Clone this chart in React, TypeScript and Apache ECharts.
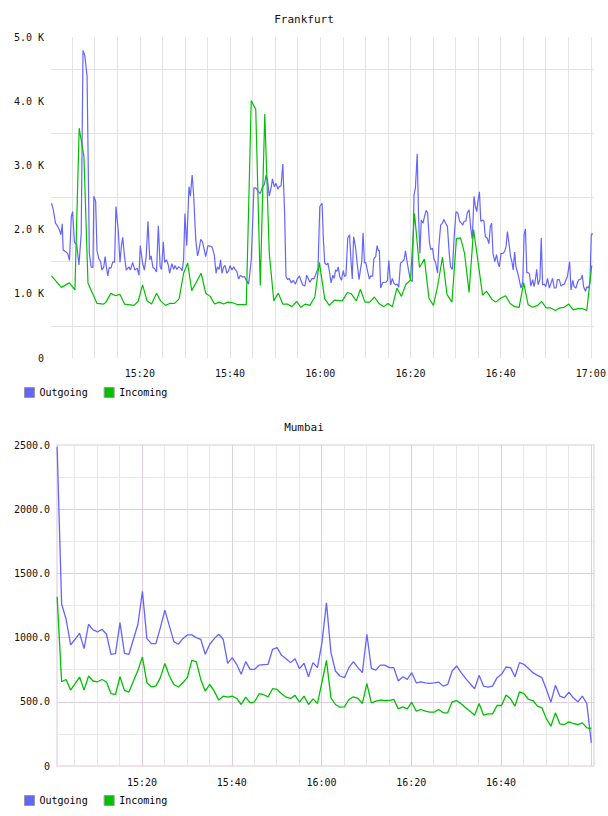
import React, { useEffect, useRef } from "react";
import * as echarts from "echarts";

// Frankfurt traffic: sample times in minutes after 15:00, values in bytes/s
const fraOutMinutes = [
  0.4, 0.8, 1.3, 1.8, 2.2, 2.5, 2.8, 3.0, 3.5, 4.0, 4.4, 4.8, 5.1, 5.5, 6.0, 6.5, 7.0, 7.4, 7.8, 8.3,
  8.8, 9.2, 9.6, 9.8, 10.2, 10.5, 10.9, 11.3, 11.6, 12.0, 12.3, 12.6, 12.9, 13.2, 13.6, 14.0, 14.4, 14.7, 15.2, 15.6,
  15.9, 16.2, 16.6, 17.0, 17.6, 17.9, 18.4, 18.9, 19.4, 19.8, 20.1, 20.6, 21.0, 21.4, 21.8, 22.2, 22.5, 22.9, 23.3, 23.7,
  24.1, 24.5, 24.8, 25.2, 25.5, 25.9, 26.3, 26.6, 27.1, 27.5, 27.8, 28.2, 28.6, 29.0, 29.4, 29.7, 30.0, 30.4, 30.9, 31.2,
  31.6, 31.9, 32.4, 32.8, 33.1, 33.5, 33.9, 34.3, 34.6, 35.1, 35.6, 36.0, 36.5, 36.9, 37.2, 37.6, 37.9, 38.2, 38.6, 38.9,
  39.3, 39.7, 40.0, 40.4, 40.8, 41.1, 41.5, 41.9, 42.3, 42.8, 43.2, 43.6, 44.1, 44.4, 44.7, 45.3, 45.7, 46.3, 46.7, 47.1,
  47.6, 48.0, 48.3, 48.7, 49.1, 49.4, 49.8, 50.2, 50.6, 50.9, 51.3, 51.7, 52.1, 52.4, 52.8, 53.1, 53.6, 54.0, 54.5, 54.9,
  55.4, 55.7, 56.1, 56.6, 57.0, 57.4, 57.7, 58.2, 58.6, 59.1, 59.5, 59.9, 60.4, 60.7, 61.0, 61.4, 61.7, 62.1, 62.4, 62.8,
  63.1, 63.4, 63.7, 64.0, 64.3, 64.7, 65.1, 65.4, 65.7, 66.1, 66.5, 66.8, 67.1, 67.4, 67.8, 68.2, 68.6, 68.9, 69.2, 69.5,
  69.8, 70.1, 70.5, 70.9, 71.2, 71.6, 71.9, 72.3, 72.6, 72.9, 73.1, 73.4, 73.8, 74.2, 74.6, 74.9, 75.2, 75.6, 76.0, 76.3,
  76.7, 77.1, 77.4, 77.8, 78.2, 78.6, 78.9, 79.3, 79.7, 80.0, 80.4, 80.8, 81.1, 81.5, 81.8, 82.1, 82.4, 82.8, 83.1, 83.5,
  83.8, 84.2, 84.5, 84.9, 85.2, 85.6, 86.0, 86.3, 86.7, 87.1, 87.4, 87.8, 88.2, 88.6, 88.9, 89.3, 89.7, 90.1, 90.5, 90.9,
  91.3, 91.6, 91.9, 92.3, 92.6, 93.0, 93.4, 93.7, 94.1, 94.4, 94.7, 95.0, 95.3, 95.6, 96.0, 96.3, 96.6, 97.0, 97.4, 97.7,
  98.0, 98.3, 98.7, 99.1, 99.4, 99.7, 100.1, 100.5, 100.9, 101.2, 101.5, 101.9, 102.2, 102.5, 102.8, 103.1, 103.4, 103.8, 104.1, 104.5,
  104.9, 105.2, 105.5, 105.8, 106.1, 106.4, 106.7, 107.1, 107.4, 107.7, 108.0, 108.3, 108.7, 109.0, 109.3, 109.7, 110.0, 110.4, 110.8, 111.1,
  111.5, 111.9, 112.3, 112.6, 113.0, 113.4, 113.7, 114.1, 114.5, 114.8, 115.3, 115.6, 116.0, 116.3, 116.7, 117.1, 117.4, 117.8, 118.1, 118.4,
  118.8, 119.1, 119.5, 119.8, 120.1, 120.5,
];
const fraOutValues = [
  2410, 2310, 2100, 2050, 1990, 1920, 2090, 1680, 1660, 1630, 1520, 2200, 2280, 1800, 1770, 1450, 1940, 4790, 4710, 4390,
  1630, 1420, 1410, 2520, 2440, 1670, 1550, 1500, 1370, 1420, 1580, 1410, 1280, 1410, 1400, 1500, 1490, 2360, 2000, 1490,
  1740, 1880, 1580, 1370, 1420, 1370, 1490, 1370, 1400, 1290, 1750, 1480, 1370, 1570, 2130, 1530, 1590, 1410, 1390, 1340,
  2060, 1420, 1380, 1810, 1490, 1530, 1450, 1320, 1470, 1380, 1440, 1380, 1420, 1400, 1360, 1530, 2250, 1750, 2670, 2520,
  2850, 2570, 1840, 1590, 1680, 1850, 1810, 1680, 1580, 1750, 1740, 1730, 1610, 1320, 1420, 1380, 1530, 1320, 1420, 1440,
  1320, 1360, 1440, 1370, 1420, 1380, 1350, 1230, 1290, 1260, 1270, 1210, 1150, 1320, 1530, 2650, 2650, 2590, 2560, 2650,
  2700, 2850, 2780, 2520, 2650, 2790, 2670, 2720, 2630, 2670, 2680, 3020, 2260, 1270, 1220, 1240, 1170, 1210, 1150, 1230,
  1280, 1210, 1140, 1120, 1290, 1230, 1180, 1240, 1230, 1320, 1400, 2360, 2410, 1840, 1480, 1450, 1480, 1320, 1170, 1290,
  1240, 1370, 1350, 1420, 1270, 1210, 1360, 1270, 1280, 1870, 1920, 1530, 1230, 1890, 1740, 1470, 1220, 1370, 1500, 1950,
  1480, 1490, 1350, 1230, 1280, 1270, 1550, 1580, 1750, 1670, 1680, 1090, 1170, 1180, 1180, 1210, 1520, 1140, 1240, 1170,
  1140, 1150, 1100, 1480, 1500, 1530, 1670, 1480, 1320, 1220, 1190, 2540, 2650, 3180, 2200, 1630, 2150, 2100, 2200, 2300,
  2260, 1810, 1690, 1710, 1550, 1480, 1320, 1740, 2070, 2100, 2160, 2100, 2050, 1630, 1420, 1380, 1890, 2280, 2260, 2130,
  2100, 2070, 2130, 2130, 2260, 2310, 2010, 1850, 2520, 2360, 2280, 2460, 2590, 2130, 2150, 2130, 1890, 1870, 1780, 2050,
  2100, 1630, 1500, 1610, 1480, 1420, 1630, 1630, 1660, 1740, 1970, 1760, 1580, 1500, 1370, 1650, 1420, 1320, 1230, 1090,
  1180, 1920, 2010, 1330, 1330, 1310, 1120, 1220, 1110, 1220, 1380, 1140, 1220, 1870, 1140, 1150, 1110, 1240, 1090, 1150,
  1240, 1090, 1090, 1220, 1220, 1120, 1140, 1150, 1220, 1270, 1500, 1060, 1210, 1110, 1090, 1190, 1220, 1230, 1290, 1110,
  1040, 1110, 1090, 1170, 1930, 1930,
];
const fraInMinutes = [
  0.4, 2.6, 4.4, 5.6, 6.55, 7.6, 8.5, 10.5, 12.0, 12.5, 13.6, 14.6, 15.6, 16.6, 18.7, 19.6, 20.6, 21.6, 22.6, 23.7,
  24.6, 25.7, 26.6, 27.7, 28.7, 29.7, 30.6, 31.5, 33.6, 34.6, 35.6, 36.6, 37.6, 38.6, 39.5, 40.6, 41.7, 43.6, 44.7, 45.7,
  46.7, 47.7, 48.7, 49.7, 50.7, 51.7, 52.7, 53.7, 54.8, 55.7, 56.7, 57.7, 58.8, 59.8, 61.0, 62.0, 63.1, 64.9, 66.0, 66.9,
  68.0, 68.9, 69.9, 71.0, 72.0, 73.0, 74.1, 75.0, 76.0, 77.0, 78.0, 79.0, 80.0, 80.9, 82.0, 83.1, 84.1, 85.1, 86.0, 87.1,
  88.1, 89.2, 90.2, 91.1, 92.0, 93.0, 94.0, 95.0, 96.0, 96.9, 98.0, 98.9, 100.0, 101.1, 102.1, 103.1, 104.1, 105.1, 106.1, 107.1,
  108.2, 109.1, 110.1, 111.1, 112.1, 113.1, 114.1, 115.1, 116.1, 117.1, 118.1, 119.1, 120.2,
];
const fraInValues = [
  1280, 1100, 1170, 1060, 3580, 3140, 1170, 850, 840, 870, 1010, 970, 990, 840, 820, 880, 1140, 890, 840, 1010,
  890, 820, 850, 850, 920, 1320, 1480, 1050, 1320, 1010, 960, 840, 870, 840, 870, 860, 830, 830, 4010, 3870,
  1130, 3800, 1630, 890, 1010, 840, 840, 800, 880, 790, 840, 820, 950, 1490, 920, 820, 900, 890, 1020, 1000,
  890, 1070, 870, 870, 950, 850, 800, 850, 800, 1090, 960, 1150, 1210, 2250, 1410, 1540, 930, 820, 1110, 1570,
  990, 870, 1860, 1870, 1630, 1020, 2000, 1490, 980, 1040, 920, 870, 930, 970, 850, 800, 790, 1170, 830, 790,
  820, 880, 780, 780, 740, 780, 790, 840, 750, 770, 770, 740, 1440,
];

// Mumbai traffic: one sample per minute, the first at 15:01
const mumFirstMinute = 1.1;
const mumOutValues = [
  2487, 1262, 1143, 943, 987, 1034, 914, 1104, 1060, 1044, 1065, 1026, 870, 875, 1117, 878, 870, 987, 1104, 1360,
  992, 953, 953, 1078, 1214, 1091, 969, 948, 992, 1021, 1021, 1000, 987, 870, 948, 992, 1026, 987, 799, 844,
  792, 714, 813, 753, 753, 786, 790, 792, 909, 922, 862, 836, 805, 836, 758, 800, 695, 805, 766, 961,
  1270, 883, 740, 701, 688, 766, 813, 766, 727, 1026, 760, 747, 786, 786, 766, 766, 662, 695, 675, 727,
  648, 656, 648, 643, 648, 654, 622, 635, 740, 779, 727, 682, 641, 602, 706, 622, 615, 622, 688, 714,
  771, 766, 695, 805, 792, 760, 727, 706, 688, 596, 497, 628, 544, 531, 576, 531, 500, 544, 487, 180,
];
const mumInValues = [
  1318, 656, 674, 591, 641, 693, 591, 701, 662, 656, 674, 654, 563, 557, 695, 589, 576, 662, 745, 849,
  648, 617, 622, 688, 799, 701, 635, 615, 648, 688, 823, 813, 674, 583, 635, 583, 513, 544, 536, 544,
  526, 479, 536, 492, 500, 563, 555, 539, 602, 596, 563, 536, 526, 550, 497, 544, 479, 523, 487, 654,
  823, 531, 479, 458, 461, 518, 539, 526, 487, 641, 492, 505, 513, 510, 510, 518, 445, 461, 445, 497,
  427, 440, 427, 419, 419, 440, 414, 414, 500, 510, 484, 453, 427, 396, 487, 396, 406, 406, 471, 471,
  552, 523, 466, 578, 563, 518, 510, 466, 453, 367, 310, 414, 328, 323, 344, 331, 323, 336, 297, 292,
];

const seriesNames = ["Outgoing", "Incoming"];
const fraTimeLabels = [20, 40, 60, 80, 100, 120];
const mumTimeLabels = [20, 40, 60, 80, 100];

const BLUE = "#6464ff";
const GREEN = "#00c000";
const MONO = "DejaVu Sans Mono";

const clock = (m: number) => {
  const total = 15 * 60 + Math.round(m);
  return `${Math.floor(total / 60)}:${String(total % 60).padStart(2, "0")}`;
};
const timeLabel = (labels: number[]) => (v: number) =>
  labels.some((l) => Math.abs(l - v) < 1e-6) ? clock(v) : "";

const pairs = (xs: number[], ys: number[]) => xs.map((x, i) => [x, ys[i]]);
const perMinute = (ys: number[]) => ys.map((y, i) => [mumFirstMinute + i, y]);

const axisText = { color: "#111", fontFamily: MONO, fontSize: 10 };
const titleText = { color: "#111", fontFamily: MONO, fontSize: 11, fontWeight: "normal" };

export default function App() {
  const ref = useRef<HTMLDivElement>(null);

  useEffect(() => {
    if (!ref.current) return;
    const chart = echarts.init(ref.current, null, { renderer: "svg" });

    const lineSeries = (
      name: string,
      color: string,
      data: number[][],
      xi: number,
      yi: number,
      width: number
    ) => ({
      type: "line",
      name,
      data,
      xAxisIndex: xi,
      yAxisIndex: yi,
      symbol: "none",
      showSymbol: false,
      silent: true,
      lineStyle: { color, width },
      itemStyle: { color },
    });

    const legendBase = {
      data: seriesNames,
      left: 24,
      padding: 0,
      icon: "rect",
      itemWidth: 10,
      itemHeight: 10,
      itemGap: 16,
      selectedMode: false,
      itemStyle: { borderColor: "#999", borderWidth: 1 },
      textStyle: { color: "#000", fontFamily: MONO, fontSize: 10 },
    };

    chart.setOption({
      animation: false,
      backgroundColor: "#fff",
      title: [
        { text: "Frankfurt", left: "center", top: 14, padding: 0, textStyle: titleText },
        { text: "Mumbai", left: "center", top: 422, padding: 0, textStyle: titleText },
      ],
      legend: [
        { ...legendBase, top: 387 },
        { ...legendBase, top: 795 },
      ],
      grid: [
        { left: 51, right: 14, top: 37, height: 321, outerBoundsMode: "none" },
        {
          left: 57,
          right: 14,
          top: 445,
          height: 321,
          show: true,
          borderColor: "#efe2ef",
          borderWidth: 2,
          outerBoundsMode: "none",
        },
      ],
      xAxis: [
        {
          type: "value",
          gridIndex: 0,
          position: "bottom",
          min: 0.3,
          max: 120.7,
          minInterval: 5,
          maxInterval: 5,
          axisLine: { show: false },
          axisTick: { show: false },
          axisLabel: { ...axisText, margin: 10, formatter: timeLabel(fraTimeLabels) },
          splitLine: {
            show: true,
            showMinLine: false,
            showMaxLine: false,
            lineStyle: { color: "#e4e4e4", width: 1 },
          },
        },
        {
          // 5-minute grid of the Mumbai panel
          type: "value",
          gridIndex: 1,
          position: "bottom",
          min: 1.07,
          max: 120.7,
          minInterval: 5,
          maxInterval: 5,
          axisLine: { show: false },
          axisTick: { show: false },
          axisLabel: { show: false },
          splitLine: {
            show: true,
            showMinLine: false,
            showMaxLine: false,
            lineStyle: { color: "#e8e8e8", width: 1 },
          },
        },
        {
          // 20-minute grid and labels of the Mumbai panel
          type: "value",
          gridIndex: 1,
          position: "bottom",
          offset: 0,
          min: 1.07,
          max: 120.7,
          minInterval: 20,
          maxInterval: 20,
          axisLine: { show: false },
          axisTick: { show: false },
          axisLabel: { ...axisText, margin: 11, formatter: timeLabel(mumTimeLabels) },
          splitLine: {
            show: true,
            showMinLine: false,
            showMaxLine: false,
            lineStyle: { color: "#e0cce0", width: 1 },
          },
        },
      ],
      yAxis: [
        {
          type: "value",
          gridIndex: 0,
          min: 0,
          max: 5000,
          interval: 1000,
          axisLine: { show: false },
          axisTick: { show: false },
          axisLabel: {
            ...axisText,
            margin: 7,
            formatter: (v: number) => (v === 0 ? "0" : `${(v / 1000).toFixed(1)} K`),
          },
          splitLine: { show: false },
          minorTick: { show: false, splitNumber: 2 },
          minorSplitLine: { show: true, lineStyle: { color: "#e4e4e4", width: 1 } },
        },
        {
          type: "value",
          gridIndex: 1,
          min: 0,
          max: 2500,
          interval: 500,
          axisLine: { show: false },
          axisTick: { show: false },
          axisLabel: {
            ...axisText,
            margin: 7,
            formatter: (v: number) => (v === 0 ? "0" : v.toFixed(1)),
          },
          splitLine: {
            show: true,
            showMinLine: false,
            showMaxLine: false,
            lineStyle: { color: "#e0cce0", width: 1 },
          },
          minorTick: { show: false, splitNumber: 2 },
          minorSplitLine: { show: true, lineStyle: { color: "#e8e8e8", width: 1 } },
        },
      ],
      series: [
        lineSeries(seriesNames[0], BLUE, pairs(fraOutMinutes, fraOutValues), 0, 0, 1.2),
        lineSeries(seriesNames[1], GREEN, pairs(fraInMinutes, fraInValues), 0, 0, 1.2),
        lineSeries(seriesNames[0], BLUE, perMinute(mumOutValues), 2, 1, 1.3),
        lineSeries(seriesNames[1], GREEN, perMinute(mumInValues), 2, 1, 1.3),
      ],
    });

    return () => chart.dispose();
  }, []);

  return (
    <div
      ref={ref}
      style={{ position: "absolute", left: 0, top: 0, width: 608, height: 816, background: "#fff" }}
    />
  );
}
